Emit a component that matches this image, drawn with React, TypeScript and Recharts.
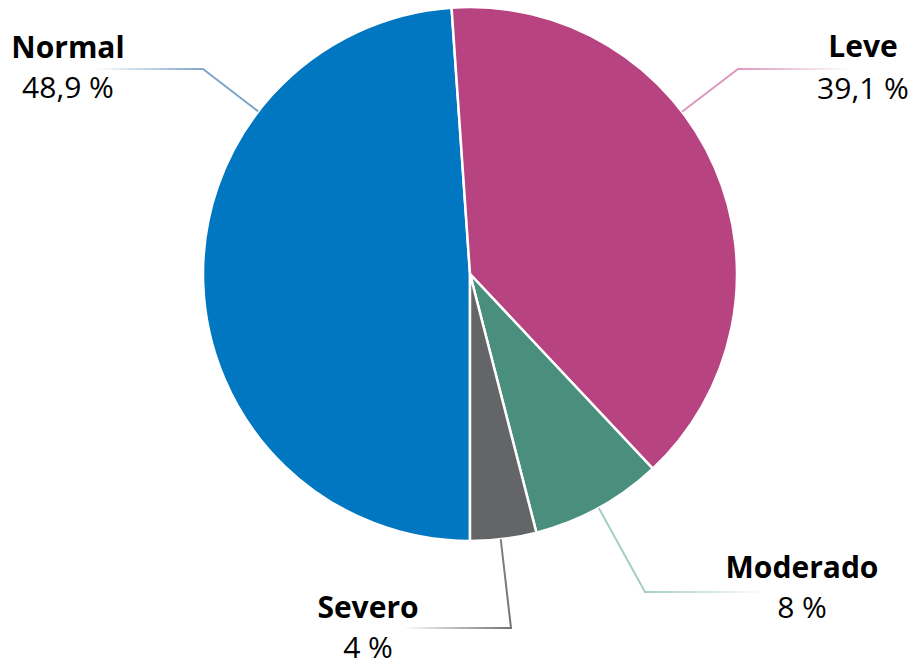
import { PieChart, Pie, Cell } from 'recharts';

const categories = ['Normal', 'Leve', 'Moderado', 'Severo'];
const shares = [48.9, 39.1, 8, 4];
const valueLabels = ['48,9 %', '39,1 %', '8 %', '4 %'];

const sliceColors = ['#0077c0', '#b84381', '#4a8e7e', '#646566'];
const lineColors = ['#7fa6ca', '#dc98bd', '#a6cec4', '#737373'];

// elbow of each leader line, end of its faded tail and text anchor (centre x, name baseline)
const labelLayout = [
  { ex: 203, ey: 69, tailX: 95, tx: 68, ty: 58, vy: 98 },
  { ex: 738, ey: 69, tailX: 850, tx: 863, ty: 57, vy: 99 },
  { ex: 645, ey: 592, tailX: 765, tx: 802, ty: 578, vy: 618 },
  { ex: 511, ey: 628, tailX: 403, tx: 368, ty: 618, vy: 658 },
];

const data = categories.map((name, i) => ({ name, value: shares[i] }));

const FONT = '"Open Sans", sans-serif';

function renderLabel(props: any) {
  const { cx, cy, outerRadius, index } = props;
  const l = labelLayout[index];
  const dx = l.ex - cx;
  const dy = l.ey - cy;
  const len = Math.sqrt(dx * dx + dy * dy);
  const sx = cx + (dx / len) * outerRadius;
  const sy = cy + (dy / len) * outerRadius;
  const gid = `lead-${index}`;
  return (
    <g key={gid}>
      <defs>
        <linearGradient id={gid} gradientUnits="userSpaceOnUse" x1={l.tailX} y1={0} x2={l.ex} y2={0}>
          <stop offset="0%" stopColor={lineColors[index]} stopOpacity={0} />
          <stop offset="100%" stopColor={lineColors[index]} stopOpacity={1} />
        </linearGradient>
      </defs>
      <path
        d={`M${sx},${sy} L${l.ex},${l.ey} L${l.tailX},${l.ey}`}
        fill="none"
        stroke={`url(#${gid})`}
        strokeWidth={2}
      />
      <text x={l.tx} y={l.ty} textAnchor="middle" fontFamily={FONT} fontSize={30} fontWeight={700} fill="#000">
        {categories[index]}
      </text>
      <text x={l.tx} y={l.vy} textAnchor="middle" fontFamily={FONT} fontSize={30} fill="#000">
        {valueLabels[index]}
      </text>
    </g>
  );
}

export default function App() {
  return (
    <div style={{ width: 915, height: 666, background: '#fff' }}>
      <style>{'body{margin:0}'}</style>
      <PieChart width={915} height={666} margin={{ top: 0, right: 0, bottom: 0, left: 0 }}>
        <Pie
          data={data}
          dataKey="value"
          nameKey="name"
          cx={470}
          cy={274}
          outerRadius={267}
          startAngle={-90}
          endAngle={-450}
          stroke="#fff"
          strokeWidth={2.5}
          label={renderLabel}
          labelLine={false}
          isAnimationActive={false}
        >
          {data.map((d, i) => (
            <Cell key={d.name} fill={sliceColors[i]} />
          ))}
        </Pie>
      </PieChart>
    </div>
  );
}
